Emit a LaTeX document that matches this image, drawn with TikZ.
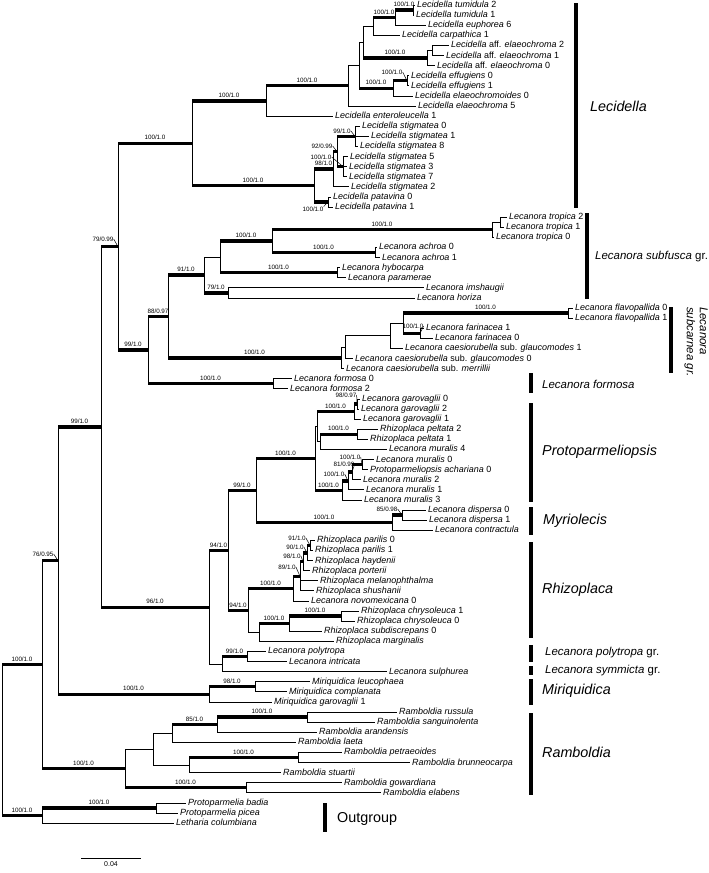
\documentclass[tikz,border=0pt]{standalone}
\usepackage{fontspec}
\setmainfont{Liberation Sans}
\usetikzlibrary{calc}

\begin{document}
\begin{tikzpicture}[x=1bp, y=-1bp,
  br/.style={line width=0.8bp},
  sup/.style={line width=3.4bp},
  leaf/.style={anchor=west, inner xsep=2bp, inner ysep=0pt, font=\fontsize{9}{10}\selectfont, text height=6.6bp, text depth=1.6bp},
  bs/.style={above=1.6bp, inner sep=0pt, font=\fontsize{6.3}{7}\selectfont},
  side/.style={inner sep=0pt, font=\fontsize{6.3}{7}\selectfont},
  ptr/.style={line width=0.5bp},
  bar/.style={line width=3.4bp},
  clade/.style={anchor=west, inner sep=0pt, font=\fontsize{14.4}{16}\selectfont},
  group/.style={anchor=west, inner sep=0pt, font=\fontsize{11.5}{13}\selectfont}]
\useasboundingbox (0,0) rectangle (709,873);

% internal nodes of the tree
\foreach \n/\x/\y in {ntum/413/10.05, ntumeu/395/17.6, ncarp/373/26.45, naffs/432/50.45, naff/427/58.0,
  nelaeoA/363/42.2, neff/407/80.75, neffu/393/88.3, nelaeoB/359/65.25, nelaeoC/348/85.6,
  nentero/266/100.85, nstigA/355/136.3, nstigB/343/166.6, nstigC/337/151.45, nstigD/333/169.1,
  npat/328/201.95, nstigE/314/185.5, nlecid/192/143.2,
  ntrops/500/222.15, ntrop/492/229.7, nachr/375/252.45, ntropach/272/241.1, nhyb/337/272.65,
  nsubfA/220/256.9, nimsh/228/292.85, nsubf/204/274.9, nflav/568/313.05, nfar/420/333.25,
  nsubcD/403/323.15, nsubcC/390/335.8, nsubcB/345/347.15, nsubc/341/357.9, nlecA/168/316.4,
  nform/273/383.75, nlec/148/350.1, nlecidlec/118/246.65,
  ngaroB/357/403.95, ngaro/354/411.5, npelt/357/434.25, npeltmur/320/441.8, nprotA/317/426.65,
  nmurach/362/464.55, nmurA/352/472.1, nmurB/348/480.95, nmur/342/490.4, nproto/315/458.5,
  ndisp/402/515.05, nmyrio/392/522.6, nprotmyr/256/490.55,
  nparil/310/545.35, nhayd/307/552.9, nport/303/561.75, nrhizA/300/576.3, nrhizB/293/588.6,
  nchry/341/616.05, nsubd/289/623.6, nmargi/259/632.45, nrhizo/248/610.5, nlecrhiz/228/550.5,
  npoly/247/656.45, nsulph/222/664.0, nmid/209/607.25, nupper/101/426.95, nmiriA/255/686.75,
  nmiri/209/694.3, ningA/58/560.6,
  nrs/307/717.05, nramA/217/724.6, nramB/172/733.45, npb/298/757.45, nramC/189/765.0,
  nramD/153/749.2, nge/246/787.75, nramb/125/768.5, ning/42/664.55, npp/156/807.95,
  nout/42/815.5, nroot/2/740.0}
  \coordinate (\n) at (\x,\y);

% terminal taxa
\foreach \n/\x/\y/\t in {
  tum2/415/5.0/{\textit{Lecidella tumidula} 2},
  tum1/414/15.1/{\textit{Lecidella tumidula} 1},
  euph/426/25.2/{\textit{Lecidella euphorea} 6},
  carp/400/35.3/{\textit{Lecidella carpathica} 1},
  aff2/449/45.4/{\textit{Lecidella} aff. \textit{elaeochroma} 2},
  aff1/444/55.5/{\textit{Lecidella} aff. \textit{elaeochroma} 1},
  aff0/435/65.6/{\textit{Lecidella} aff. \textit{elaeochroma} 0},
  eff0/409/75.7/{\textit{Lecidella effugiens} 0},
  eff1/409/85.8/{\textit{Lecidella effugiens} 1},
  elaeoid/413/95.9/{\textit{Lecidella elaeochromoides} 0},
  elaeo5/416/106.0/{\textit{Lecidella elaeochroma} 5},
  entero/333/116.1/{\textit{Lecidella enteroleucella} 1},
  stig0/360/126.2/{\textit{Lecidella stigmatea} 0},
  stig1/369/136.3/{\textit{Lecidella stigmatea} 1},
  stig8/358/146.4/{\textit{Lecidella stigmatea} 8},
  stig5/348/156.5/{\textit{Lecidella stigmatea} 5},
  stig3/347/166.6/{\textit{Lecidella stigmatea} 3},
  stig7/347/176.7/{\textit{Lecidella stigmatea} 7},
  stig2/349/186.8/{\textit{Lecidella stigmatea} 2},
  pat0/331/196.9/{\textit{Lecidella patavina} 0},
  pat1/333/207.0/{\textit{Lecidella patavina} 1},
  trop2/507/217.1/{\textit{Lecanora tropica} 2},
  trop1/504/227.2/{\textit{Lecanora tropica} 1},
  trop0/494/237.3/{\textit{Lecanora tropica} 0},
  achr0/377/247.4/{\textit{Lecanora achroa} 0},
  achr1/380/257.5/{\textit{Lecanora achroa} 1},
  hyboc/340/267.6/{\textit{Lecanora hybocarpa}},
  param/346/277.7/{\textit{Lecanora paramerae}},
  imsh/424/287.8/{\textit{Lecanora imshaugii}},
  hori/415/297.9/{\textit{Lecanora horiza}},
  flav0/573/308.0/{\textit{Lecanora flavopallida} 0},
  flav1/573/318.1/{\textit{Lecanora flavopallida} 1},
  far1/424/328.2/{\textit{Lecanora farinacea} 1},
  far0/433/338.3/{\textit{Lecanora farinacea} 0},
  glauc1/403/348.4/{\textit{Lecanora caesiorubella} sub. \textit{glaucomodes} 1},
  glauc0/353/358.5/{\textit{Lecanora caesiorubella} sub. \textit{glaucomodes} 0},
  merr/344/368.6/{\textit{Lecanora caesiorubella} sub. \textit{merrillii}},
  form0/292/378.7/{\textit{Lecanora formosa} 0},
  form2/288/388.8/{\textit{Lecanora formosa} 2},
  garo0/360/398.9/{\textit{Lecanora garovaglii} 0},
  garo2/359/409.0/{\textit{Lecanora garovaglii} 2},
  garo1/361/419.1/{\textit{Lecanora garovaglii} 1},
  pelt2/378/429.2/{\textit{Rhizoplaca peltata} 2},
  pelt1/368/439.3/{\textit{Rhizoplaca peltata} 1},
  mur4/387/449.4/{\textit{Lecanora muralis} 4},
  mur0/374/459.5/{\textit{Lecanora muralis} 0},
  acha0/368/469.6/{\textit{Protoparmeliopsis achariana} 0},
  mur2/361/479.7/{\textit{Lecanora muralis} 2},
  mur1/364/489.8/{\textit{Lecanora muralis} 1},
  mur3/362/499.9/{\textit{Lecanora muralis} 3},
  disp0/426/510.0/{\textit{Lecanora dispersa} 0},
  disp1/427/520.1/{\textit{Lecanora dispersa} 1},
  contr/433/530.2/{\textit{Lecanora contractula}},
  paril0/315/540.3/{\textit{Rhizoplaca parilis} 0},
  paril1/313/550.4/{\textit{Rhizoplaca parilis} 1},
  hayd/313/560.5/{\textit{Rhizoplaca haydenii}},
  port/310/570.6/{\textit{Rhizoplaca porterii}},
  melan/318/580.7/{\textit{Rhizoplaca melanophthalma}},
  shush/314/590.8/{\textit{Rhizoplaca shushanii}},
  novom/309/600.9/{\textit{Lecanora novomexicana} 0},
  chry1/359/611.0/{\textit{Rhizoplaca chrysoleuca} 1},
  chry0/355/621.1/{\textit{Rhizoplaca chrysoleuca} 0},
  subd/322/631.2/{\textit{Rhizoplaca subdiscrepans} 0},
  margi/334/641.3/{\textit{Rhizoplaca marginalis}},
  polyt/266/651.4/{\textit{Lecanora polytropa}},
  intric/287/661.5/{\textit{Lecanora intricata}},
  sulph/387/671.6/{\textit{Lecanora sulphurea}},
  leuco/310/681.7/{\textit{Miriquidica leucophaea}},
  compl/287/691.8/{\textit{Miriquidica complanata}},
  mgaro/272/701.9/{\textit{Miriquidica garovaglii} 1},
  russ/397/712.0/{\textit{Ramboldia russula}},
  sang/375/722.1/{\textit{Ramboldia sanguinolenta}},
  arand/317/732.2/{\textit{Ramboldia arandensis}},
  laeta/296/742.3/{\textit{Ramboldia laeta}},
  petr/342/752.4/{\textit{Ramboldia petraeoides}},
  brun/410/762.5/{\textit{Ramboldia brunneocarpa}},
  stuart/281/772.6/{\textit{Ramboldia stuartii}},
  gowar/342/782.7/{\textit{Ramboldia gowardiana}},
  elab/381/792.8/{\textit{Ramboldia elabens}},
  badia/186/802.9/{\textit{Protoparmelia badia}},
  picea/178/813.0/{\textit{Protoparmelia picea}},
  lethar/174/823.1/{\textit{Letharia columbiana}}}
  \node[leaf] (\n) at (\x,\y) {\t};

% branches
\foreach \p/\c in {ntum/tum2, ntum/tum1, ntumeu/ntum, ntumeu/euph, ncarp/ntumeu, ncarp/carp,
  naffs/aff2, naffs/aff1, naff/naffs, naff/aff0, nelaeoA/ncarp, nelaeoA/naff,
  neff/eff0, neff/eff1, neffu/neff, neffu/elaeoid, nelaeoB/nelaeoA, nelaeoB/neffu,
  nelaeoC/nelaeoB, nelaeoC/elaeo5, nentero/nelaeoC, nentero/entero,
  nstigA/stig0, nstigA/stig1, nstigA/stig8, nstigB/stig5, nstigB/stig3, nstigB/stig7,
  nstigC/nstigA, nstigC/nstigB, nstigD/nstigC, nstigD/stig2, npat/pat0, npat/pat1,
  nstigE/nstigD, nstigE/npat, nlecid/nentero, nlecid/nstigE, nlecidlec/nlecid, nlecidlec/nlec,
  ntrops/trop2, ntrops/trop1, ntrop/ntrops, ntrop/trop0, nachr/achr0, nachr/achr1,
  ntropach/ntrop, ntropach/nachr, nhyb/hyboc, nhyb/param, nsubfA/ntropach, nsubfA/nhyb,
  nimsh/imsh, nimsh/hori, nsubf/nsubfA, nsubf/nimsh,
  nflav/flav0, nflav/flav1, nfar/far1, nfar/far0, nsubcD/nflav, nsubcD/nfar,
  nsubcC/nsubcD, nsubcC/glauc1, nsubcB/nsubcC, nsubcB/glauc0, nsubc/nsubcB, nsubc/merr,
  nlecA/nsubf, nlecA/nsubc, nform/form0, nform/form2, nlec/nlecA, nlec/nform,
  ngaroB/garo0, ngaroB/garo2, ngaro/ngaroB, ngaro/garo1, npelt/pelt2, npelt/pelt1,
  npeltmur/npelt, npeltmur/mur4, nprotA/ngaro, nprotA/npeltmur,
  nmurach/mur0, nmurach/acha0, nmurA/nmurach, nmurA/mur2, nmurB/nmurA, nmurB/mur1,
  nmur/nmurB, nmur/mur3, nproto/nprotA, nproto/nmur,
  ndisp/disp0, ndisp/disp1, nmyrio/ndisp, nmyrio/contr, nprotmyr/nproto, nprotmyr/nmyrio,
  nparil/paril0, nparil/paril1, nhayd/nparil, nhayd/hayd, nport/nhayd, nport/port,
  nrhizA/nport, nrhizA/melan, nrhizA/shush, nrhizB/nrhizA, nrhizB/novom,
  nchry/chry1, nchry/chry0, nsubd/nchry, nsubd/subd, nmargi/nsubd, nmargi/margi,
  nrhizo/nrhizB, nrhizo/nmargi, nlecrhiz/nprotmyr, nlecrhiz/nrhizo,
  npoly/polyt, npoly/intric, nsulph/npoly, nsulph/sulph, nmid/nlecrhiz, nmid/nsulph,
  nupper/nlecidlec, nupper/nmid, nmiriA/leuco, nmiriA/compl, nmiri/nmiriA, nmiri/mgaro,
  ningA/nupper, ningA/nmiri,
  nrs/russ, nrs/sang, nramA/nrs, nramA/arand, nramB/nramA, nramB/laeta,
  npb/petr, npb/brun, nramC/npb, nramC/stuart, nramD/nramB, nramD/nramC,
  nge/gowar, nge/elab, nramb/nramD, nramb/nge, ning/ningA, ning/nramb,
  npp/badia, npp/picea, nout/npp, nout/lethar, nroot/ning, nroot/nout}
  \draw[br] (\p) |- (\c);

% supported branches, value above
\foreach \p/\c/\a/\b in {ntumeu/ntum/100/1.0, ncarp/ntumeu/100/1.0, nelaeoA/naff/100/1.0,
  nelaeoB/neffu/100/1.0, nentero/nelaeoC/100/1.0, nstigE/nstigD/98/1.0, nlecid/nentero/100/1.0,
  nlecid/nstigE/100/1.0, nlecidlec/nlecid/100/1.0, nlecidlec/nlec/99/1.0,
  ntropach/ntrop/100/1.0, ntropach/nachr/100/1.0, nsubfA/ntropach/100/1.0, nsubfA/nhyb/100/1.0,
  nsubf/nimsh/79/1.0, nsubcD/nflav/100/1.0, nlecA/nsubf/91/1.0, nlecA/nsubc/100/1.0,
  nlec/nlecA/88/0.97, nlec/nform/100/1.0, npeltmur/npelt/100/1.0, nprotA/ngaro/100/1.0,
  nproto/nmur/100/1.0, nprotmyr/nproto/100/1.0, nprotmyr/nmyrio/100/1.0, nsubd/nchry/100/1.0,
  nmargi/nsubd/100/1.0, nrhizo/nrhizB/100/1.0, nlecrhiz/nprotmyr/99/1.0, nlecrhiz/nrhizo/94/1.0,
  nsulph/npoly/99/1.0, nmid/nlecrhiz/94/1.0, nupper/nmid/96/1.0, nmiri/nmiriA/98/1.0,
  ningA/nupper/99/1.0, ningA/nmiri/100/1.0, nramA/nrs/100/1.0, nramB/nramA/85/1.0,
  nramC/npb/100/1.0, nramb/nge/100/1.0, ning/nramb/100/1.0, nout/npp/100/1.0,
  nroot/ning/100/1.0, nroot/nout/100/1.0}
  \draw[sup] (\p |- \c) -- node[bs] {\a/\b} (\c);

% short supported branches, value set aside
\foreach \p/\c in {neffu/neff, nstigC/nstigA, nstigC/nstigB, nstigD/nstigC, nstigE/npat,
  nsubcD/nfar, ngaro/ngaroB, nmurA/nmurach, nmurB/nmurA, nmur/nmurB, nmyrio/ndisp,
  nhayd/nparil, nport/nhayd, nrhizA/nport, nrhizB/nrhizA, nupper/nlecidlec, ning/ningA}
  \draw[sup] (\p |- \c) -- (\c);
\foreach \n/\x/\y/\a/\b/\t in {lbeff/392/72/100/1.0/neff, lbsA/342/131/99/1.0/nstigA,
  lbsC/322/146/92/0.99/nstigC, lbsB/321/157/100/1.0/nstigB, lbfar/413/326/100/1.0/nfar,
  lbgaro/346/395/98/0.97/ngaroB, lbmurach/350/457/100/1.0/nmurach, lbmurA/344/464/81/0.99/nmurA,
  lbmurB/334/474/100/1.0/nmurB, lbdisp/387/509/85/0.98/ndisp, lbparil/297/538/91/1.0/nparil,
  lbhayd/295/547/90/1.0/nhayd, lbport/292/556/98/1.0/nport, lbrhizA/287/567/89/1.0/nrhizA,
  lblecid/103/239/79/0.99/nlecidlec, lbingA/43/554/76/0.95/ningA}
  {\node[side] (\n) at (\x,\y) {\a/\b};
   \draw[ptr] (\n.east) -- (\t);}
\node[side] (lbpat) at (313,209) {100/1.0};
\draw[ptr] (lbpat.north east) -- (npat);

% clade bars and names
\draw[bar] (576,3) -- (576,208);
\node[clade] at (590,106) {\textit{Lecidella}};
\draw[bar] (587,213) -- (587,299);
\node[group] at (595,257) {\textit{Lecanora subfusca} gr.};
\draw[bar] (671,307) -- (671,373);
\node[group, rotate=-90, anchor=north west, align=left] at (708,307) {\textit{Lecanora}\\\textit{subcarnea gr.}};
\draw[bar] (531,373) -- (531,393);
\node[group] at (542,384) {\textit{Lecanora formosa}};
\draw[bar] (531,403) -- (531,502);
\node[clade] at (542,452) {\textit{Protoparmeliopsis}};
\draw[bar] (531,507) -- (531,535);
\node[clade] at (543,521) {\textit{Myriolecis}};
\draw[bar] (531,542) -- (531,638);
\node[clade] at (542,590) {\textit{Rhizoplaca}};
\draw[bar] (531,645) -- (531,662);
\node[group] at (545,653) {\textit{Lecanora polytropa} gr.};
\draw[bar] (531,666) -- (531,675);
\node[group] at (545,671) {\textit{Lecanora symmicta} gr.};
\draw[bar] (531,679) -- (531,705);
\node[clade] at (542,691) {\textit{Miriquidica}};
\draw[bar] (531,713) -- (531,795);
\node[clade] at (542,752) {\textit{Ramboldia}};
\draw[bar] (325,803) -- (325,832);
\node[clade] at (337,819) {Outgroup};

% scale
\coordinate (sbl) at (81,858);
\coordinate (sbr) at (141,858);
\draw[br] (sbl) -- node[below=3bp, inner sep=0pt, font=\fontsize{7}{8}\selectfont] {0.04} (sbr);
\end{tikzpicture}
\end{document}
